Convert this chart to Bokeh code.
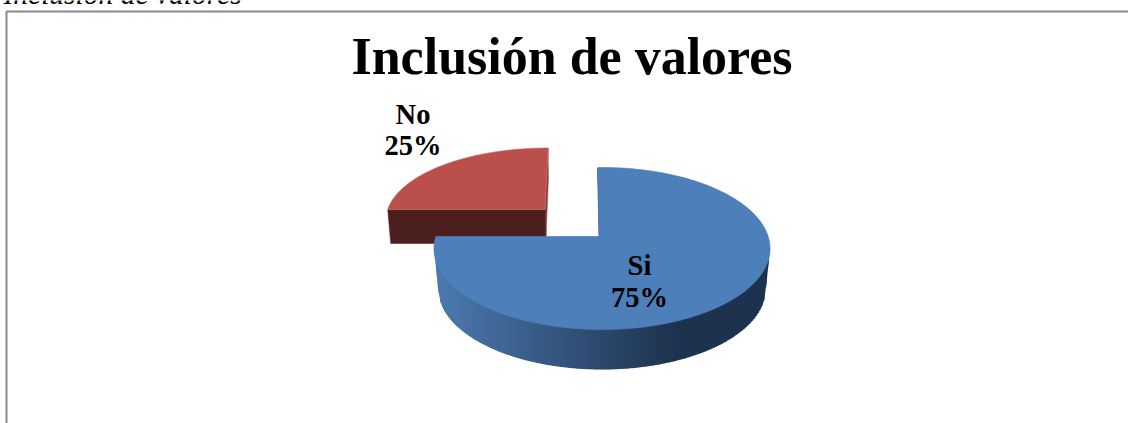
import numpy as np
from bokeh.plotting import figure
from bokeh.models import Range1d
from bokeh.core.properties import value
from bokeh.embed import file_html
from bokeh.resources import INLINE

categories = ["Si", "No"]
shares = [75, 25]
chart_title = "Inclusión de valores"
caption = "Inclusión de valores"

W, H = 1128, 423
p = figure(width=W, height=H, x_range=Range1d(0, W), y_range=Range1d(H, 0),
           output_backend="svg", toolbar_location=None, min_border=0)
p.axis.visible = False
p.grid.visible = False
p.outline_line_color = None

fr = np.array(shares, float) / sum(shares)


def rim(ax, ay, cx, cy, rx, ry, f0, f1, shear=0.0, n=90):
    """Rim points of a slice running clockwise from 12 o'clock, cast from its apex."""
    th = 2 * np.pi * np.linspace(f0, f1, n)
    dx = np.sin(th) + shear * np.cos(th)
    dy = -np.cos(th)
    A = (dx / rx) ** 2 + (dy / ry) ** 2
    B = 2 * (dx * (ax - cx) / rx ** 2 + dy * (ay - cy) / ry ** 2)
    C = ((ax - cx) / rx) ** 2 + ((ay - cy) / ry) ** 2 - 1
    t = (-B + np.sqrt(B ** 2 - 4 * A * C)) / (2 * A)
    return ax + t * dx, ay + t * dy


def mix(a, b, t):
    c = [round(x + (y - x) * t) for x, y in zip(a, b)]
    return "#%02x%02x%02x" % tuple(c)


# ---- red slice (exploded)
ra = (544.5, 209.0)
rx_, ry_ = rim(ra[0], ra[1], 547.5, 219.5, 162.0, 72, fr[0], 1.0, shear=0.05)
p.patch([rx_[-1], rx_[-1] + 0.3, 545.5, 544.5], [ry_[-1], 178, 237, 209],
        fill_color="#8c3a38", line_color="#8c3a38", line_width=0.5)
p.patch([rx_[0], ra[0], ra[0] + 1, rx_[0] + 3], [ry_[0], ra[1], 243, 243],
        fill_color="#4b1f1e", line_color="#4b1f1e", line_width=0.5)
p.patch(np.r_[ra[0], rx_], np.r_[ra[1], ry_], fill_color="#bb4f4c",
        line_color="#c4706d", line_width=0.7)

# ---- blue slice side wall
ba = (598.5, 236.0)
ucx, ucy, urx, ury = 601.5, 248.0, 168.0, 81.0
lcx, lcy, lrx, lry = 601.5, 288.0, 164.0, 81.0
left_c, dark_c = (76, 122, 176), (29, 50, 78)


def upper(x):
    return ucy + ury * np.sqrt(np.clip(1 - ((x - ucx) / urx) ** 2, 0, 1))


def lower(x):
    d = np.abs(x - lcx)
    inner = lcy + lry * np.sqrt(np.clip(1 - (d / lrx) ** 2, 0, 1))
    taper = ucy + (urx - d) / (urx - lrx) * (lcy - ucy)
    return np.where(d > lrx, taper, inner)


xs = np.arange(ucx - urx, ucx + urx, 2.0)
strip_x, strip_y, strip_c = [], [], []
for x0 in xs:
    x1 = min(x0 + 2.6, ucx + urx)
    strip_x.append([x0, x1, x1, x0])
    strip_y.append([float(upper(x0)) - 2, float(upper(x1)) - 2, float(lower(x1)), float(lower(x0))])
    t = np.clip((x0 - (ucx - urx)) / 240.0, 0, 1)
    strip_c.append(mix(left_c, dark_c, t))
p.patches(strip_x, strip_y, fill_color=strip_c, line_color=None)

p.patch([597, 601, 598.5], [168, 236, 236], fill_color="#1f3a5c", line_color="#1f3a5c", line_width=0.5)

bx_, by_ = rim(ba[0], ba[1], ucx, ucy, urx, ury, 0.0, fr[0], shear=-0.015, n=240)
p.patch(np.r_[ba[0], bx_], np.r_[ba[1], by_], fill_color="#4d7fba", line_color="#4d7fba", line_width=0.7)

# ---- border
p.line([6, 6, W], [H, 11, 11], line_color="#8a8a8a", line_width=2)

# ---- texts (the 0.4 em term puts the drawn baseline on the wanted pixel row)
serif = value("Liberation Serif")


def put(x, base, txt, size, style="bold", align="center"):
    p.text([x], [base - 0.4 * size], text=[txt], text_font=serif, text_font_size=f"{size}px",
           text_font_style=style, text_color="#000000", text_align=align, text_baseline="alphabetic")


put(3, 5, caption, 29.5, "italic", "left")
put(571.5, 77, chart_title, 52)
lab_x = [639, 412.5]
lab_y = [[276.5, 308], [125, 156.5]]
for name, s, x, (y0, y1) in zip(categories, shares, lab_x, lab_y):
    put(x, y0, name, 28.5)
    put(x, y1, f"{s}%", 28.5)

open("out.html", "w").write(file_html(p, INLINE))
